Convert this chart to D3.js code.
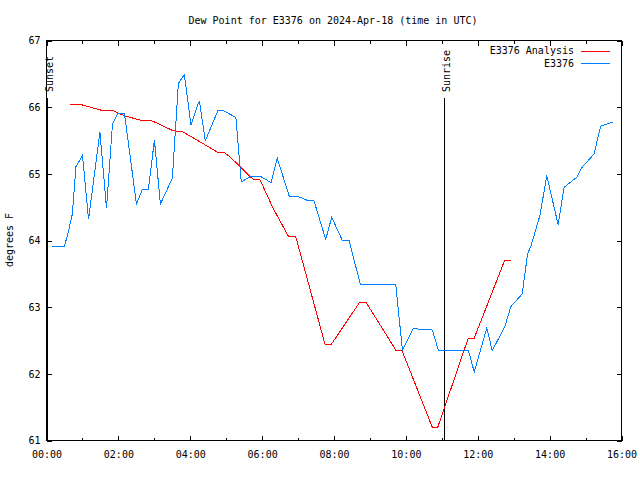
<!DOCTYPE html>
<html>
<head>
<meta charset="utf-8">
<script src="https://cdn.jsdelivr.net/npm/d3@7"></script>
<style>
  body { margin: 0; background: #fff; }
  svg { display: block; }
  text { font-family: "DejaVu Sans Mono", "Liberation Mono", monospace; font-size: 10px; fill: #000; }
</style>
</head>
<body>
<svg id="chart" width="640" height="480"></svg>
<script>
// ---- data ----
const title = "Dew Point for E3376 on 2024-Apr-18 (time in UTC)";
const yLabel = "degrees F";
const seriesNames = ["E3376 Analysis", "E3376"];
const seriesColors = ["#ff0000", "#0080ff"];

const analysisTimes = ["00:40","00:55","01:35","01:52","02:12","02:37","02:54","03:32","03:49","04:46","04:56","05:07","05:24","05:41","05:46","05:57","06:19","06:45","06:57","07:46","07:56","08:44","08:54","09:44","09:54","10:45","10:54","11:45","11:55","12:46","12:56"];
const analysisValues = [66.04,66.04,65.94,65.94,65.86,65.80,65.80,65.64,65.62,65.32,65.32,65.25,65.10,64.95,64.91,64.91,64.48,64.05,64.05,62.43,62.43,63.07,63.07,62.35,62.35,61.19,61.19,62.53,62.53,63.70,63.70];

const obsTimes = ["00:10","00:31","00:38","00:44","00:50","01:01","01:11","01:30","01:41","01:51","02:00","02:11","02:31","02:41","02:51","03:01","03:11","03:31","03:41","03:51","04:02","04:16","04:26","04:47","04:56","05:17","05:26","05:43","05:57","06:16","06:26","06:46","06:59","07:15","07:27","07:47","07:57","08:15","08:26","08:45","09:44","09:55","10:13","10:45","10:55","11:45","11:55","12:16","12:25","12:46","12:56","13:15","13:24","13:30","13:45","13:56","14:15","14:25","14:46","14:55","15:15","15:26","15:46"];
const obsValues = [63.91,63.91,64.15,64.39,65.10,65.27,64.31,65.62,64.48,65.74,65.90,65.90,64.54,64.76,64.76,65.50,64.54,64.93,66.35,66.48,65.73,66.09,65.49,65.94,65.94,65.84,64.87,64.96,64.96,64.86,65.23,64.66,64.66,64.60,64.60,64.01,64.34,63.99,63.99,63.33,63.33,62.35,62.67,62.65,62.35,62.35,62.02,62.68,62.34,62.70,63.00,63.19,63.79,63.92,64.38,64.97,64.23,64.79,64.94,65.09,65.29,65.71,65.77];

const xTickLabels = ["00:00","02:00","04:00","06:00","08:00","10:00","12:00","14:00","16:00"];
const yTicks = [61, 62, 63, 64, 65, 66, 67];
const sunEvents = [{name: "Sunset", time: "00:01"}, {name: "Sunrise", time: "11:04"}];
const sunLineTop = 66.13;

// ---- helpers ----
const toMin = s => { const [h, m] = s.split(":").map(Number); return h * 60 + m; };

const svg = d3.select("#chart");
const L = 46, R = 621, T = 40, B = 440;

const x = d3.scaleLinear().domain([0, 960]).range([L, R]);
const y = d3.scaleLinear().domain([61, 67]).range([B, T]);

// title
svg.append("text").attr("x", 333).attr("y", 24).attr("text-anchor", "middle").text(title);

// y label
svg.append("text")
  .attr("transform", `translate(13,${(T + B) / 2}) rotate(-90)`)
  .attr("text-anchor", "middle").text(yLabel);

// axes
const majorX = xTickLabels.map(toMin);
const minorX = d3.range(60, 960, 120);

const gB = svg.append("g").attr("transform", `translate(0.5,${B + 0.5})`)
  .call(d3.axisBottom(x).tickValues(majorX).tickFormat((d, i) => xTickLabels[i]).tickSize(-5).tickPadding(10));
svg.append("g").attr("transform", `translate(0.5,${B + 0.5})`)
  .call(d3.axisBottom(x).tickValues(minorX).tickFormat("").tickSize(-3));
svg.append("g").attr("transform", `translate(0.5,${T + 0.5})`)
  .call(d3.axisTop(x).tickValues(majorX).tickFormat("").tickSize(-5));
svg.append("g").attr("transform", `translate(0.5,${T + 0.5})`)
  .call(d3.axisTop(x).tickValues(minorX).tickFormat("").tickSize(-3));
svg.append("g").attr("transform", `translate(${L + 0.5},0.5)`)
  .call(d3.axisLeft(y).tickValues(yTicks).tickFormat(d3.format("d")).tickSize(-5).tickPadding(6));
svg.append("g").attr("transform", `translate(${R + 0.5},0.5)`)
  .call(d3.axisRight(y).tickValues(yTicks).tickFormat("").tickSize(-5));

svg.selectAll(".domain").remove();
svg.selectAll(".tick line").attr("stroke", "#000").attr("shape-rendering", "crispEdges");
svg.selectAll(".tick text").attr("fill", "#000").style("font-size", "10px")
  .style("font-family", '"DejaVu Sans Mono", monospace');

// frame
svg.append("rect").attr("x", L + 0.5).attr("y", T + 0.5).attr("width", R - L).attr("height", B - T)
  .attr("fill", "none").attr("stroke", "#000").attr("shape-rendering", "crispEdges");

// sun events
sunEvents.forEach(ev => {
  const xx = Math.round(x(toMin(ev.time))) + 0.5;
  svg.append("line").attr("x1", xx).attr("x2", xx).attr("y1", Math.round(y(sunLineTop))).attr("y2", B)
    .attr("stroke", "#000").attr("stroke-width", 1).attr("shape-rendering", "crispEdges");
  svg.append("text")
    .attr("transform", `translate(${xx + 5.5},${Math.round(y(sunLineTop)) - 6}) rotate(-90)`)
    .attr("text-anchor", "start").text(ev.name);
});

// lines
const line = d3.line().x(d => x(d.t)).y(d => y(d.v));
const seriesData = [
  analysisTimes.map((t, i) => ({t: toMin(t), v: analysisValues[i]})),
  obsTimes.map((t, i) => ({t: toMin(t), v: obsValues[i]}))
];
seriesData.forEach((data, i) => {
  svg.append("path").datum(data).attr("d", line)
    .attr("fill", "none").attr("stroke", seriesColors[i]).attr("stroke-width", 1)
    .attr("shape-rendering", "crispEdges");
});

// legend
seriesNames.forEach((name, i) => {
  const ly = 50.5 + i * 12.5;
  svg.append("text").attr("x", 574).attr("y", ly + 3.5).attr("text-anchor", "end").text(name);
  svg.append("line").attr("x1", 581).attr("x2", 610).attr("y1", Math.round(ly) + 0.5).attr("y2", Math.round(ly) + 0.5)
    .attr("stroke", seriesColors[i]).attr("stroke-width", 1).attr("shape-rendering", "crispEdges");
});
</script>
</body>
</html>
